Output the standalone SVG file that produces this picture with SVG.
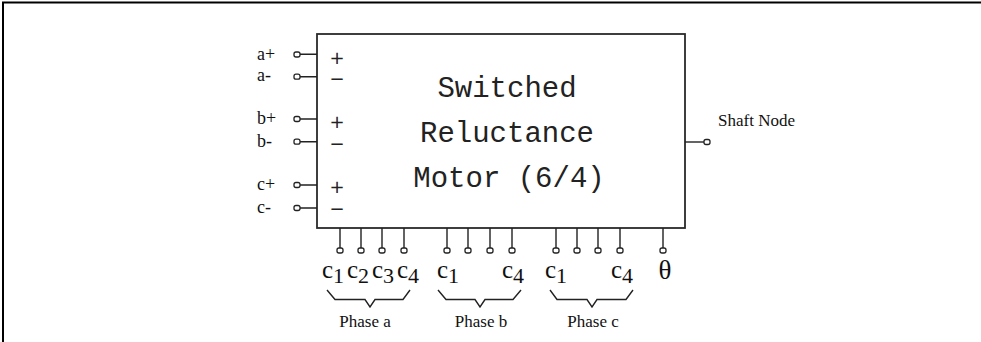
<svg xmlns="http://www.w3.org/2000/svg" width="981" height="342" viewBox="0 0 981 342">
<style>
.ln{stroke:#222;stroke-width:1.4;fill:none}
.pin{stroke:#222;stroke-width:1.3;fill:#fff}
.t{font-family:"Liberation Serif","Times New Roman",serif;fill:#111}
.m{font-family:"Liberation Mono","Courier New",monospace;font-size:29px;fill:#222;text-anchor:middle}
.sub{font-size:22px}
.sg{font-family:"DejaVu Sans",sans-serif;fill:#222;font-size:18px;text-anchor:middle}
</style>
<rect width="981" height="342" fill="#fff"/>
<g id="frame"><path d="M2 2.5H981M3 2V342" stroke="#000" stroke-width="2" fill="none"/></g>
<g id="motor">
<rect x="317" y="34" width="368" height="194" fill="#fff" stroke="#2a2a2a" stroke-width="1.8"/>
<text class="m" x="507" y="97">Switched</text>
<text class="m" x="507" y="142">Reluctance</text>
<text class="m" x="509" y="187">Motor (6/4)</text>
<g id="signs">
<text class="sg" x="337" y="64">+</text><text class="sg" x="337" y="84.5">−</text>
<text class="sg" x="337" y="127.5">+</text><text class="sg" x="337" y="149.5">−</text>
<text class="sg" x="337" y="192.5">+</text><text class="sg" x="337" y="214.5">−</text>
</g>
</g>
<g id="connectors">
<path class="ln" d="M300 54.3H317M300 76.7H317M300 119H317M300 141.7H317M300 185H317M300 208H317"/>
<path class="ln" d="M340 228V248M361 228V248M382 228V248M404 228V248M447 228V248M468 228V248M490 228V248M512 228V248M556 228V248M577 228V248M598 228V248M620 228V248M663 228V248"/>
<path class="ln" d="M685 142H704"/>
<path class="ln" d="M327 290L335 299.5H365L370 307L375 299.5H403L410 290"/>
<path class="ln" d="M438 290L446 299.5H475L480 307L485 299.5H513L521 290"/>
<path class="ln" d="M550 290L557 299.5H587L592 307L597 299.5H626L633 290"/>
</g>
<g id="left-ports">
<rect class="pin" x="294" y="52" width="6" height="5" rx="2"/>
<rect class="pin" x="294" y="74.2" width="6" height="5" rx="2"/>
<rect class="pin" x="294" y="116.5" width="6" height="5" rx="2"/>
<rect class="pin" x="294" y="139.2" width="6" height="5" rx="2"/>
<rect class="pin" x="294" y="182.5" width="6" height="5" rx="2"/>
<rect class="pin" x="294" y="205.5" width="6" height="5" rx="2"/>
<g class="t" font-size="18">
<text x="257" y="59.5">a+</text><text x="257" y="81">a-</text>
<text x="257" y="124">b+</text><text x="257" y="146.5">b-</text>
<text x="257" y="190">c+</text><text x="257" y="213">c-</text>
</g>
</g>
<g id="bottom-ports">
<rect class="pin" x="337" y="248" width="6" height="5" rx="2"/>
<rect class="pin" x="358" y="248" width="6" height="5" rx="2"/>
<rect class="pin" x="379" y="248" width="6" height="5" rx="2"/>
<rect class="pin" x="401" y="248" width="6" height="5" rx="2"/>
<rect class="pin" x="444" y="248" width="6" height="5" rx="2"/>
<rect class="pin" x="465" y="248" width="6" height="5" rx="2"/>
<rect class="pin" x="487" y="248" width="6" height="5" rx="2"/>
<rect class="pin" x="509" y="248" width="6" height="5" rx="2"/>
<rect class="pin" x="553" y="248" width="6" height="5" rx="2"/>
<rect class="pin" x="574" y="248" width="6" height="5" rx="2"/>
<rect class="pin" x="595" y="248" width="6" height="5" rx="2"/>
<rect class="pin" x="617" y="248" width="6" height="5" rx="2"/>
<rect class="pin" x="660" y="248" width="6" height="5" rx="2"/>
<g class="t" font-size="25">
<text x="322" y="278">c<tspan class="sub" dy="5">1</tspan></text>
<text x="347" y="278">c<tspan class="sub" dy="5">2</tspan></text>
<text x="372" y="278">c<tspan class="sub" dy="5">3</tspan></text>
<text x="397" y="278">c<tspan class="sub" dy="5">4</tspan></text>
<text x="437" y="278">c<tspan class="sub" dy="5">1</tspan></text>
<text x="502" y="278">c<tspan class="sub" dy="5">4</tspan></text>
<text x="545" y="278">c<tspan class="sub" dy="5">1</tspan></text>
<text x="611" y="278">c<tspan class="sub" dy="5">4</tspan></text>
<text x="665" y="279" text-anchor="middle" font-size="27">θ</text>
</g>
<g class="t" font-size="17" text-anchor="middle">
<text x="365" y="327">Phase a</text>
<text x="481" y="327">Phase b</text>
<text x="593" y="327">Phase c</text>
</g>
</g>
<g id="shaft-node">
<rect class="pin" x="704" y="139.5" width="6" height="5" rx="2"/>
<text class="t" font-size="17" x="718" y="126">Shaft Node</text>
</g>
</svg>
